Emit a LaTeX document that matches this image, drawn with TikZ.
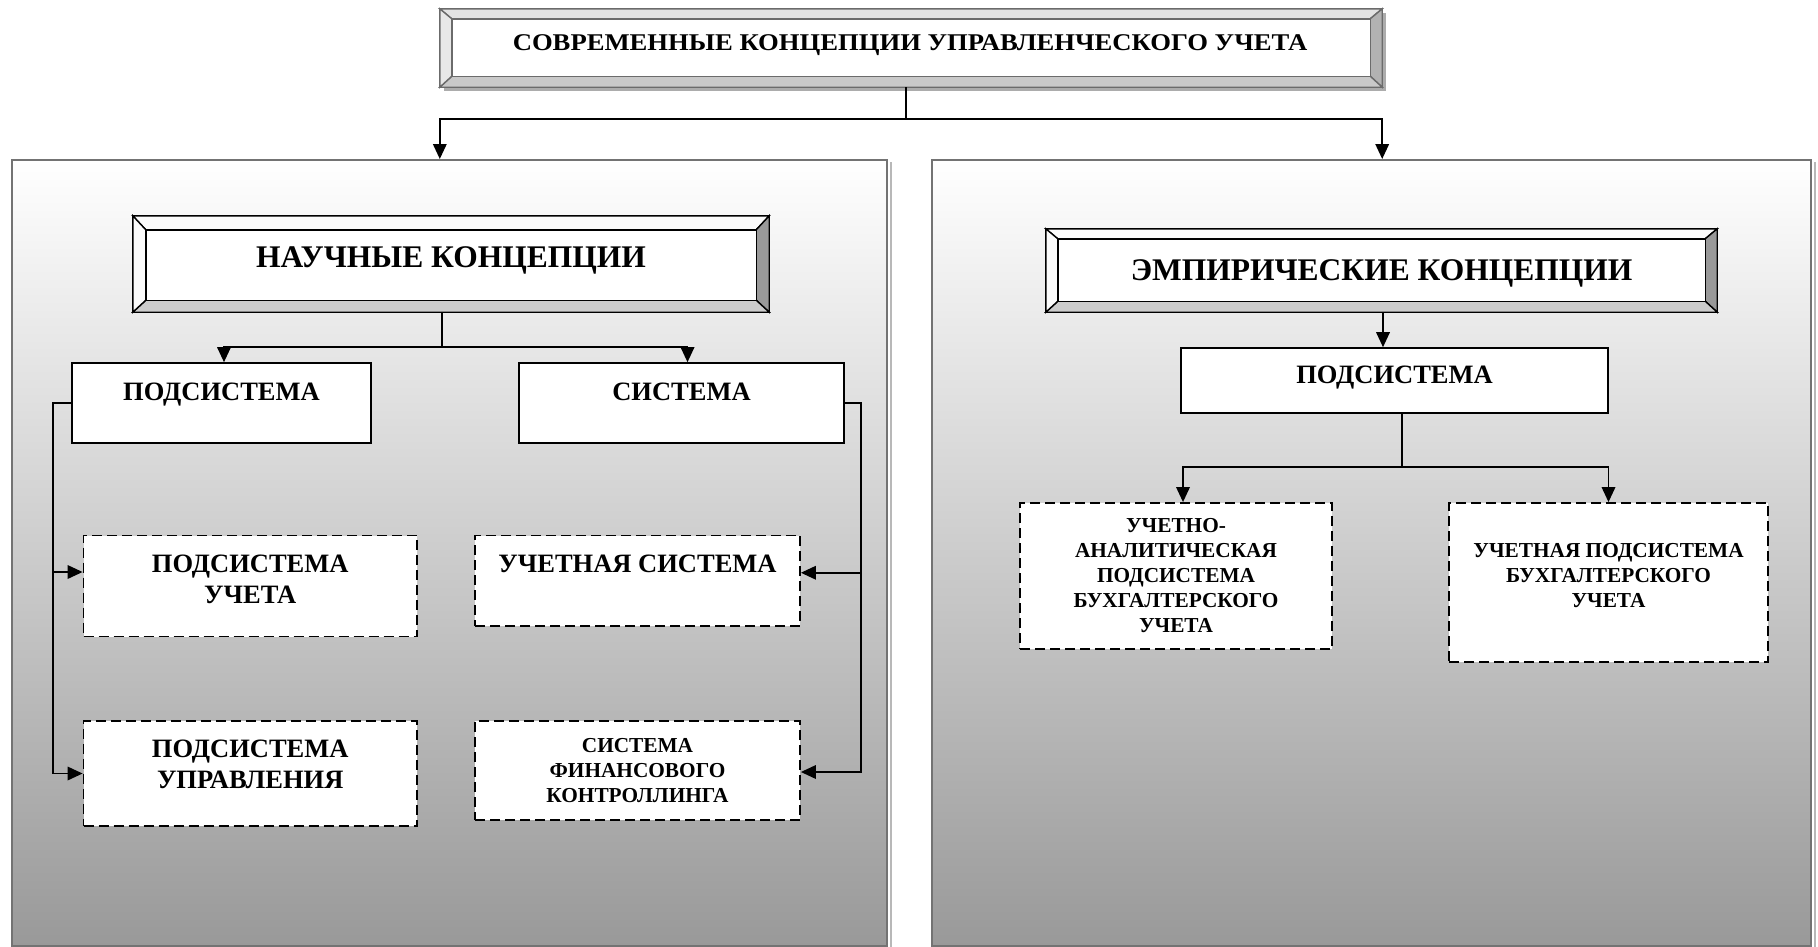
\documentclass[tikz,border=0pt]{standalone}
\usepackage{fontspec}
\setmainfont{Liberation Serif}
\usepackage{graphicx}
\usetikzlibrary{arrows.meta,calc}

\definecolor{panelline}{gray}{0.45}
\definecolor{panelshade}{gray}{0.72}
\definecolor{titleline}{gray}{0.42}

% bevelled frame drawn around a named rectangular node
% #1 name, #2 side width, #3 top width, #4 bottom width,
% #5 top face, #6 right face, #7 bottom face, #8 left face, #9 line colour
\newcommand\bevelfaces[9]{%
  \coordinate (#1-a) at ($(#1.north west)+(#2,#3)$);
  \coordinate (#1-b) at ($(#1.north east)+(-#2,#3)$);
  \coordinate (#1-c) at ($(#1.south east)+(-#2,-#4)$);
  \coordinate (#1-d) at ($(#1.south west)+(#2,-#4)$);
  \filldraw[fill=#5, draw=#9, line width=1.4pt, line join=miter]
    (#1.north west) -- (#1.north east) -- (#1-b) -- (#1-a) -- cycle;
  \filldraw[fill=#6, draw=#9, line width=1.4pt, line join=miter]
    (#1.north east) -- (#1.south east) -- (#1-c) -- (#1-b) -- cycle;
  \filldraw[fill=#7, draw=#9, line width=1.4pt, line join=miter]
    (#1.south east) -- (#1.south west) -- (#1-d) -- (#1-c) -- cycle;
  \filldraw[fill=#8, draw=#9, line width=1.4pt, line join=miter]
    (#1.south west) -- (#1.north west) -- (#1-a) -- (#1-d) -- cycle;
  \filldraw[fill=white, draw=#9, line width=1.4pt] (#1-a) rectangle (#1-c);
}

\tikzset{
  x=1pt, y=-1pt,
  panel/.style={draw=panelline, line width=2pt, top color=white,
    bottom color=gray!80, inner sep=0, minimum width=#1},
  outerframe/.style={inner sep=0, draw=none},
  solidbox/.style={draw=black, line width=1.6pt, fill=white, inner sep=0},
  dashbox/.style={draw=black, line width=1.8pt, dash pattern=on 10pt off 5pt,
    fill=white, inner sep=0},
  conn/.style={line width=1.8pt, black},
  arr/.style={conn, -{Triangle[length=15pt,width=13.5pt]}},
  bigtxt/.style={font=\bfseries\fontsize{31.5}{37}\selectfont, inner sep=0},
  midtxt/.style={font=\bfseries\fontsize{26.5}{31.5}\selectfont, inner sep=0, align=center},
  smalltxt/.style={font=\bfseries\fontsize{21.3}{25}\selectfont, inner sep=0, align=center},
  titletxt/.style={font=\bfseries\fontsize{24}{28}\selectfont, inner sep=0},
}

\begin{document}
\begin{tikzpicture}
\useasboundingbox (0,0) rectangle (1818,946);

% two shaded panels
\node[panel=875.4pt, minimum height=786pt] (lp) at (449.3,553) {};
\node[panel=879pt, minimum height=786pt] (rp) at (1371.5,553) {};
\draw[panelshade, line width=2pt] ($(lp.north east)+(3,3)$) -- ($(lp.south east)+(3,0)$);
\draw[panelshade, line width=2pt] ($(rp.north east)+(3,3)$) -- ($(rp.south east)+(3,0)$);

% title box with drop shadow
\node[outerframe, minimum width=942pt, minimum height=78pt] (title) at (911,48) {};
\fill[gray!65] ($(title.north west)+(4,4)$) rectangle ($(title.south east)+(4,4)$);
\bevelfaces{title}{12}{10}{11}{gray!22}{gray!60}{gray!42}{gray!18}{titleline}
\node[titletxt, anchor=base] (titlet) at (910,50)
  {\scalebox{1.11}[1]{СОВРЕМЕННЫЕ КОНЦЕПЦИИ УПРАВЛЕНЧЕСКОГО УЧЕТА}};

% bevelled headings of the panels
\node[outerframe, minimum width=636pt, minimum height=96pt] (sci) at (451,264) {};
\bevelfaces{sci}{13}{14}{12}{gray!3}{gray!80}{gray!40}{gray!3}{black}
\node[bigtxt, anchor=base] (scit) at (451,267) {НАУЧНЫЕ КОНЦЕПЦИИ};

\node[outerframe, minimum width=671pt, minimum height=83pt] (emp) at (1381.5,270.5) {};
\bevelfaces{emp}{12}{10}{11}{gray!3}{gray!80}{gray!40}{gray!3}{black}
\node[bigtxt, anchor=base] (empt) at (1381.5,280) {ЭМПИРИЧЕСКИЕ КОНЦЕПЦИИ};

% solid boxes
\node[solidbox, minimum width=299pt, minimum height=80pt] (pod) at (221.5,403) {};
\node[midtxt, anchor=base] (podt) at (221.5,400) {ПОДСИСТЕМА};
\node[solidbox, minimum width=325pt, minimum height=80pt] (sys) at (681.5,403) {};
\node[midtxt, anchor=base] (syst) at (681.5,400) {СИСТЕМА};
\node[solidbox, minimum width=427pt, minimum height=65pt] (pr) at (1394.5,380.5) {};
\node[midtxt, anchor=base] (prt) at (1394.5,383) {ПОДСИСТЕМА};

% dashed boxes
\node[dashbox, minimum width=333.5pt, minimum height=101pt] (uch) at (250.25,586) {};
\node[midtxt, anchor=north] (ucht) at (250.25,554.5) {ПОДСИСТЕМА\\УЧЕТА};
\node[dashbox, minimum width=333.5pt, minimum height=105pt] (upr) at (250.25,773.5) {};
\node[midtxt, anchor=north] (uprt) at (250.25,739.5) {ПОДСИСТЕМА\\УПРАВЛЕНИЯ};
\node[dashbox, minimum width=325pt, minimum height=90.5pt] (uchsys) at (637.5,580.75) {};
\node[midtxt, anchor=base] (uchsyst) at (637.5,572) {УЧЕТНАЯ СИСТЕМА};
\node[dashbox, minimum width=325pt, minimum height=99pt] (fin) at (637.5,770.5) {};
\node[smalltxt, anchor=north] (fint) at (637.5,738) {СИСТЕМА\\ФИНАНСОВОГО\\КОНТРОЛЛИНГА};
\node[dashbox, minimum width=312pt, minimum height=146pt] (ua) at (1176,576) {};
\node[smalltxt, anchor=north] (uat) at (1176,518) {УЧЕТНО-\\АНАЛИТИЧЕСКАЯ\\ПОДСИСТЕМА\\БУХГАЛТЕРСКОГО\\УЧЕТА};
\node[dashbox, minimum width=319pt, minimum height=159pt] (up) at (1608.5,582.5) {};
\node[smalltxt, anchor=north] (upt) at (1608.5,543) {УЧЕТНАЯ ПОДСИСТЕМА\\БУХГАЛТЕРСКОГО\\УЧЕТА};

% connectors from the title
\coordinate (bus) at (906,119);
\draw[conn] (title.south -| bus) -- (bus);
\draw[arr] (bus) -| (title.west |- lp.north);
\draw[arr] (bus) -| (title.east |- rp.north);

% scientific concepts
\coordinate (scibus) at (442,347);
\draw[conn] (sci.south -| scibus) -- (scibus);
\draw[arr] (scibus) -| ([xshift=2.5pt]pod.north);
\draw[arr] (scibus) -| ([xshift=6pt]sys.north);

\coordinate (lrail) at (53,403);
\draw[arr] (pod.west) -- (lrail) |- (upr.west);
\draw[arr] ([yshift=14pt]uch.west -| lrail) -- ([yshift=14pt]uch.west);

\coordinate (rrail) at (861,403);
\draw[arr] (sys.east) -- (rrail) |- ([yshift=-1.5pt]fin.east);
\draw[arr] ([yshift=8pt]uchsys.east -| rrail) -- ([yshift=8pt]uchsys.east);

% empirical concepts
\draw[arr] ([xshift=1.5pt]emp.south) -- ([xshift=1.5pt]emp.south |- pr.north);
\coordinate (empbus) at (1402,467);
\draw[conn] (pr.south -| empbus) -- (empbus);
\draw[arr] (empbus) -| ([xshift=7pt]ua.north);
\draw[arr] (empbus) -| (up.north);
\end{tikzpicture}
\end{document}
